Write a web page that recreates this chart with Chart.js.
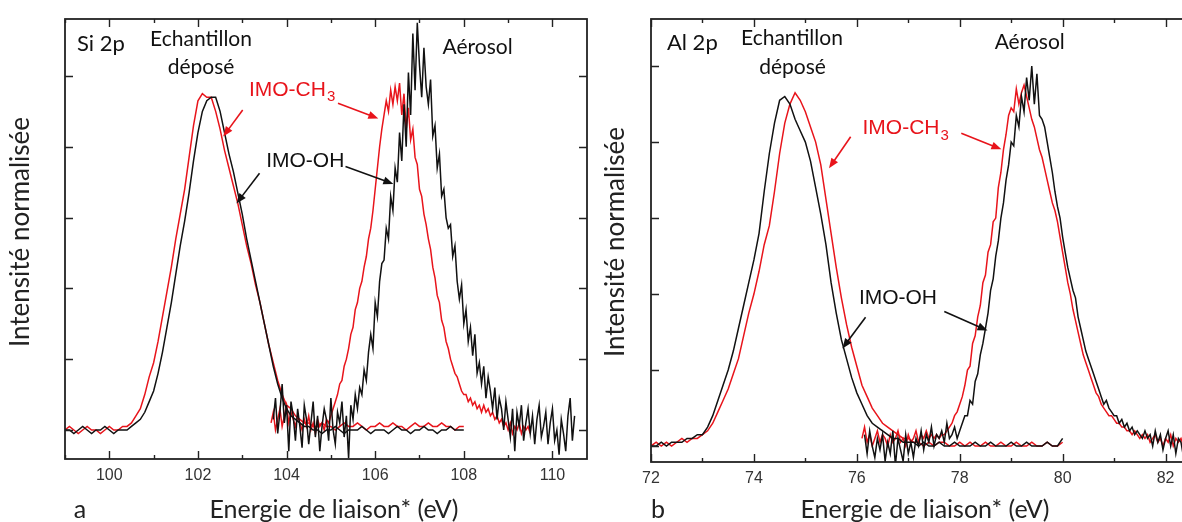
<!DOCTYPE html>
<html>
<head>
	<title>Si 2p / Al 2p</title>
	<style>
		body { margin: 0; width: 1182px; height: 522px; overflow: hidden; background: #fff; position: relative; }
		.panel { position: absolute; top: 0; height: 522px; }
		canvas { display: block; }
	</style>
</head>
<body>
	<div class="panel" style="left:0;width:600px"><canvas id="chartA" width="600" height="522"></canvas></div>
	<div class="panel" style="left:600px;width:640px"><canvas id="chartB" width="640" height="522"></canvas></div>

	<script src="https://cdn.jsdelivr.net/npm/chart.js@4.4.0/dist/chart.umd.min.js"></script>
	<script>
		// ---- panel a : Si 2p (energies in eV, intensity on a 0-100 scale) ----
		const siTicks = [100, 102, 104, 106, 108, 110];
		const siDepX0 = 99.0, siDepStep = 0.1;
		const siDepCH3 = [
			0, 1, 0, -1, 0, 1, 0, 0, -1, 0,
			1, 0, 0, 1, 1, 2, 4, 6, 10, 15,
			19, 25, 32, 39, 46, 54, 61, 68, 77, 86,
			93, 95, 94, 94, 90, 85, 79, 74, 69, 64,
			58, 52, 47, 41, 36, 30, 24, 19, 14, 10,
			7, 6, 4, 3, 2, 2, 1, 1, 2, 1,
			1, 0, 1, 2, 1, 1, 2, 1, 0, 1,
			1, 2, 1, 1, 2, 1, 1, 0, 1, 2,
			1, 1, 2, 1, 1, 2, 1, 1, 0, 1,
			1];
		const siDepOH = [
			0, 0, -1, 0, 1, 0, -1, 0, 0, 1,
			0, -1, 0, 0, 0, 1, 2, 3, 5, 8,
			11, 16, 22, 29, 36, 44, 52, 59, 67, 76,
			84, 90, 93, 94, 94, 90, 84, 78, 73, 67,
			61, 54, 48, 42, 36, 30, 24, 18, 13, 9,
			6, 4, 3, 2, 1, 1, 0, 0, -1, 0,
			0, 1, 0, -1, 0, 0, 0, 1, 0, -1,
			0, 0, 0, -1, 0, 1, 0, 0, -1, 0,
			0, 1, 0, 0, -1, 0, 0, 1, 0, 0,
			0];
		const siAerStep = 0.05;
		const siAerCH3X0 = 103.65;
		const siAerCH3 = [
			2, 5, 0, 3, 6, 1, 4, 7, 2, 5,
			3, 1, 4, 2, 0, 3, 1, 4, 0, 2,
			-1, 3, 1, 2, 0, 3, 2, 4, 6, 8,
			10, 13, 14, 18, 20, 23, 27, 29, 34, 36,
			40, 42, 46, 49, 54, 57, 62, 68, 74, 80,
			85, 89, 93, 90, 96, 92, 97, 93, 98, 89,
			95, 85, 91, 82, 85, 77, 75, 68, 66, 61,
			58, 54, 51, 46, 43, 38, 36, 31, 29, 25,
			23, 20, 18, 16, 15, 13, 11, 10, 10, 8,
			9, 7, 8, 6, 7, 5, 7, 5, 6, 4,
			5, 3, 4, 2, 3, 1, 2, 0, 2, -1,
			1, 0, 2, -1, 1, 0, 1, -1];
		const siAerOHX0 = 103.70;
		const siAerOH = [
			3, 9, -1, 5, 13, 2, 7, -6, 8, 4,
			-3, 6, 1, -5, 7, 3, -4, 2, 8, -2,
			4, -6, 1, 6, 3, -3, 9, 0, -4, 5,
			2, 8, -2, 4, -8, 7, 3, 10, 6, 12,
			10, 17, 14, 22, 27, 23, 36, 32, 42, 47,
			48, 57, 54, 66, 62, 74, 70, 84, 76, 92,
			80, 101, 89, 112, 96, 115, 103, 94, 108, 97,
			92, 99, 83, 86, 74, 78, 66, 68, 60, 57,
			58, 49, 52, 42, 37, 41, 30, 34, 25, 29,
			21, 27, 16, 19, 13, 18, 9, 15, 11, 6,
			12, 3, 9, 6, 0, 8, 3, -2, 6, -6,
			5, 1, 7, -3, 2, 6, -1, 4, -4, 3,
			7, -2, 1, 5, -4, 2, 6, -3, 0, -7,
			3, -1, -6, 4, 9, -3, 4];

		// ---- panel b : Al 2p ----
		const alTicks = [72, 74, 76, 78, 80, 82];
		const alDepX0 = 72.0, alDepStep = 0.1;
		const alDepCH3 = [
			0, 1, 0, 1, 0, 1, 2, 1, 2, 2,
			3, 4, 6, 9, 12, 15, 19, 23, 29, 35,
			40, 46, 53, 58, 67, 77, 85, 90, 93, 91,
			88, 84, 80, 74, 65, 56, 47, 39, 32, 26,
			21, 16, 13, 10, 8, 6, 5, 4, 3, 2,
			2, 1, 1, 0, 1, 0, 1, 1, 0, 0,
			1, 0, 1, 0, 0, 1, 0, 0, 1, 0,
			0, 1, 0, 0, 1, 0, 0, 1, 0, 0,
			1];
		const alDepOH = [
			0, 0, 1, 0, 1, 1, 1, 2, 2, 3,
			3, 5, 8, 12, 16, 20, 25, 31, 37, 43,
			49, 56, 67, 77, 85, 91, 92, 90, 86, 83,
			80, 75, 68, 61, 53, 43, 35, 28, 23, 18,
			14, 11, 8, 6, 5, 4, 3, 2, 2, 1,
			1, 1, 0, 1, 0, 0, 1, 0, 0, 1,
			0, 0, 0, 1, 0, 0, 1, 0, 0, 0,
			1, 0, 0, 1, 0, 0, 0, 1, 0, 0,
			2];
		const alAerStep = 0.05;
		const alAerCH3X0 = 76.10;
		const alAerCH3 = [
			2, 5, 1, 3, 0, 2, 4, 1, 3, 2,
			0, 3, 1, 2, 4, 1, 2, 0, 3, 1,
			2, 4, 1, 3, 2, 4, 2, 3, 2, 3,
			2, 3, 3, 4, 5, 6, 8, 9, 11, 13,
			16, 20, 21, 27, 29, 34, 37, 43, 45, 51,
			53, 59, 60, 68, 72, 78, 82, 87, 89, 88,
			94, 90, 93, 95, 92, 89, 86, 84, 81, 78,
			76, 73, 70, 67, 64, 62, 59, 55, 51, 47,
			43, 40, 36, 33, 30, 27, 24, 22, 20, 18,
			16, 14, 13, 11, 10, 9, 8, 8, 7, 6,
			6, 5, 5, 4, 4, 3, 4, 3, 2, 3,
			2, 3, 1, 2, 3, 1, 2, 0, 2, 1,
			3, 0, 2, 1, 2, 0, 1, 2, 0];
		const alAerOHX0 = 76.15;
		const alAerOH = [
			3, -2, 4, 0, -3, 2, -1, 3, -4, 1,
			-2, 4, -5, 2, -1, -4, 3, -2, 1, -3,
			2, 0, 4, -1, 3, 1, 5, 0, 3, 2,
			4, 1, 6, 2, 3, 5, 2, 4, 6, 8,
			8, 12, 11, 17, 19, 24, 27, 31, 35, 41,
			44, 50, 54, 60, 64, 70, 74, 80, 79, 87,
			84, 92, 88, 97, 91, 100, 90, 98, 87, 86,
			84, 80, 76, 72, 67, 63, 60, 55, 51, 47,
			44, 41, 39, 34, 31, 28, 25, 23, 21, 19,
			17, 15, 13, 11, 12, 10, 9, 8, 8, 6,
			7, 5, 6, 4, 5, 3, 4, 3, 2, 4,
			2, 3, 0, 4, 1, 3, -1, 2, 4, 0,
			3, -2, 2, 1, -3, 3, 0, 2];

		const yTicks = [0, 20, 40, 60, 80, 100];
		const RED = '#e8141b', BLACK = '#111';

		function pts(x0, step, ys) {
			return ys.map((y, i) => ({ x: +(x0 + i * step).toFixed(2), y: y }));
		}

		function arrow(ctx, x1, y1, x2, y2, color) {
			const a = Math.atan2(y2 - y1, x2 - x1), h = 10, w = 4;
			ctx.strokeStyle = color; ctx.fillStyle = color; ctx.lineWidth = 1.6;
			ctx.beginPath();
			ctx.moveTo(x1, y1);
			ctx.lineTo(x2 - Math.cos(a) * h * 0.7, y2 - Math.sin(a) * h * 0.7);
			ctx.stroke();
			ctx.beginPath();
			ctx.moveTo(x2, y2);
			ctx.lineTo(x2 - h * Math.cos(a) + w * Math.sin(a), y2 - h * Math.sin(a) - w * Math.cos(a));
			ctx.lineTo(x2 - h * Math.cos(a) - w * Math.sin(a), y2 - h * Math.sin(a) + w * Math.cos(a));
			ctx.closePath();
			ctx.fill();
		}

		// frame, inward ticks, labels and arrows
		const decor = {
			id: 'decor',
			afterDraw(chart, args, o) {
				const ctx = chart.ctx, a = chart.chartArea, x = chart.scales.x, y = chart.scales.y;
				ctx.save();
				ctx.strokeStyle = '#222';
				ctx.lineWidth = 1.8;
				ctx.strokeRect(a.left, a.top, a.right - a.left, a.bottom - a.top);
				ctx.lineWidth = 1.4;
				ctx.beginPath();
				for (let v = Math.ceil(x.min); v <= x.max; v++) {
					const px = Math.round(x.getPixelForValue(v)) + 0.5;
					const len = o.major.includes(v) ? 8 : 4;
					ctx.moveTo(px, a.bottom); ctx.lineTo(px, a.bottom - len);
					ctx.moveTo(px, a.top); ctx.lineTo(px, a.top + len);
				}
				yTicks.forEach(v => {
					const py = Math.round(y.getPixelForValue(v)) + 0.5;
					ctx.moveTo(a.left, py); ctx.lineTo(a.left + 8, py);
					ctx.moveTo(a.right, py); ctx.lineTo(a.right - 8, py);
				});
				ctx.stroke();

				ctx.textBaseline = 'middle';
				o.labels.forEach(l => {
					const px = x.getPixelForValue(l.x), py = y.getPixelForValue(l.y);
					ctx.font = l.font;
					ctx.fillStyle = l.color;
					ctx.textAlign = l.align;
					ctx.fillText(l.t, px, py);
					if (l.sub) {
						const w = ctx.measureText(l.t).width;
						ctx.font = '15px "Liberation Sans"';
						ctx.textAlign = 'left';
						ctx.fillText(l.sub, px + w + 1, py + 7);
					}
				});
				o.arrows.forEach(r => {
					arrow(ctx, x.getPixelForValue(r[0]), y.getPixelForValue(r[1]),
						x.getPixelForValue(r[2]), y.getPixelForValue(r[3]), r[4]);
				});

				ctx.fillStyle = '#222';
				ctx.font = '25px Lato';
				ctx.textAlign = 'center';
				ctx.fillText('Energie de liaison* (eV)', o.xTitle[0], o.xTitle[1]);
				ctx.fillText(o.letter, o.letterPos[0], o.letterPos[1]);
				ctx.font = '26px Lato';
				ctx.translate(o.yTitle[0], o.yTitle[1]);
				ctx.rotate(-Math.PI / 2);
				ctx.fillText('Intensité normalisée', 0, 0);
				ctx.restore();
			}
		};

		function panel(id, cfg) {
			const line = (data, color) => ({ data: data, borderColor: color, borderWidth: 1.5,
				pointRadius: 0, tension: 0, fill: false });
			return new Chart(document.getElementById(id), {
				type: 'line',
				data: { datasets: [
					line(cfg.aerOH, BLACK), line(cfg.depOH, BLACK),
					line(cfg.aerCH3, RED), line(cfg.depCH3, RED)
				] },
				options: {
					responsive: false,
					animation: false,
					events: [],
					layout: { padding: { top: 19, right: cfg.padRight, left: 0, bottom: 0 } },
					plugins: { legend: { display: false }, tooltip: { enabled: false }, decor: cfg.decor },
					scales: {
						x: {
							type: 'linear', min: cfg.xmin, max: cfg.xmax,
							grid: { display: false, drawTicks: false }, border: { display: false },
							afterBuildTicks: s => { s.ticks = cfg.ticks.map(v => ({ value: v })); },
							afterFit: s => { s.height = cfg.bottom; },
							ticks: { autoSkip: false, maxRotation: 0, padding: 7, color: '#333',
								font: { family: '"Liberation Sans", Arial', size: 16 } }
						},
						y: {
							min: cfg.ymin, max: cfg.ymax,
							grid: { display: false, drawTicks: false }, border: { display: false },
							ticks: { display: false },
							afterFit: s => { s.width = cfg.left; }
						}
					}
				},
				plugins: [decor]
			});
		}

		const lblFont = '21px Lato', imoFont = '21px "Liberation Sans"';

		panel('chartA', {
			xmin: 99, xmax: 110.78, ymin: -8.2, ymax: 116.1,
			left: 65, padRight: 13, bottom: 63, ticks: siTicks,
			depCH3: pts(siDepX0, siDepStep, siDepCH3), depOH: pts(siDepX0, siDepStep, siDepOH),
			aerCH3: pts(siAerCH3X0, siAerStep, siAerCH3), aerOH: pts(siAerOHX0, siAerStep, siAerOH),
			decor: {
				major: siTicks,
				xTitle: [334, 510], letter: 'a', letterPos: [80, 510], yTitle: [21, 232],
				labels: [
					{ t: 'Si 2p', x: 99.27, y: 109.2, font: '22px Lato', color: BLACK, align: 'left' },
					{ t: 'Echantillon', x: 102.07, y: 110.4, font: lblFont, color: BLACK, align: 'center' },
					{ t: 'déposé', x: 102.07, y: 102.6, font: lblFont, color: BLACK, align: 'center' },
					{ t: 'Aérosol', x: 108.31, y: 108.1, font: lblFont, color: BLACK, align: 'center' },
					{ t: 'IMO-CH', sub: '3', x: 103.15, y: 96.0, font: imoFont, color: RED, align: 'left' },
					{ t: 'IMO-OH', x: 103.54, y: 75.8, font: imoFont, color: BLACK, align: 'left' }
				],
				arrows: [
					[103.01, 90.4, 102.57, 82.9, RED],
					[105.16, 92.3, 106.07, 88.0, RED],
					[103.39, 72.5, 102.87, 64.0, BLACK],
					[105.33, 74.4, 106.41, 69.5, BLACK]
				]
			}
		});

		panel('chartB', {
			xmin: 72, xmax: 83, ymin: -4.2, ymax: 112.4,
			left: 51, padRight: 23, bottom: 60, ticks: alTicks,
			depCH3: pts(alDepX0, alDepStep, alDepCH3), depOH: pts(alDepX0, alDepStep, alDepOH),
			aerCH3: pts(alAerCH3X0, alAerStep, alAerCH3), aerOH: pts(alAerOHX0, alAerStep, alAerOH),
			decor: {
				major: alTicks,
				xTitle: [325, 510], letter: 'b', letterPos: [58, 510], yTitle: [16, 242],
				labels: [
					{ t: 'Al 2p', x: 72.31, y: 106.0, font: '22px Lato', color: BLACK, align: 'left' },
					{ t: 'Echantillon', x: 74.74, y: 107.3, font: lblFont, color: BLACK, align: 'center' },
					{ t: 'déposé', x: 74.75, y: 99.8, font: lblFont, color: BLACK, align: 'center' },
					{ t: 'Aérosol', x: 79.36, y: 106.4, font: lblFont, color: BLACK, align: 'center' },
					{ t: 'IMO-CH', sub: '3', x: 76.11, y: 83.6, font: imoFont, color: RED, align: 'left' },
					{ t: 'IMO-OH', x: 76.04, y: 39.0, font: imoFont, color: BLACK, align: 'left' }
				],
				arrows: [
					[75.88, 81.4, 75.46, 73.1, RED],
					[78.03, 82.3, 78.81, 78.1, RED],
					[76.17, 33.9, 75.72, 25.7, BLACK],
					[77.70, 35.4, 78.54, 30.4, BLACK]
				]
			}
		});
	</script>
</body>
</html>
